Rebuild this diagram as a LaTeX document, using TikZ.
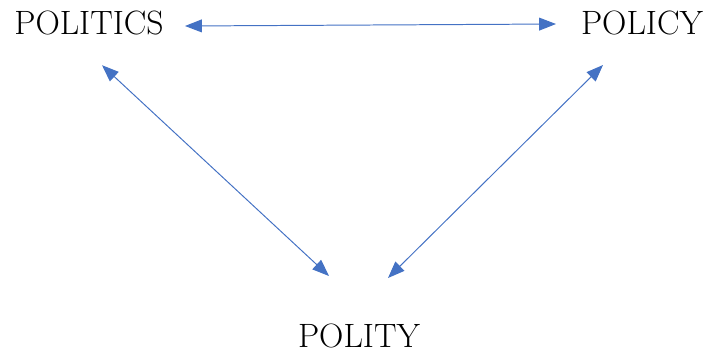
\documentclass[tikz,border=0pt]{standalone}
\usepackage{tikz}
\usetikzlibrary{arrows.meta,positioning}
\definecolor{officeblue}{RGB}{68,114,196}

\begin{document}
\begin{tikzpicture}[
  every node/.style={font=\fontsize{24}{28}\selectfont, inner sep=0pt},
  link/.style={draw=officeblue, line width=0.7pt, {Triangle[length=0.42cm, width=0.32cm]}-{Triangle[length=0.42cm, width=0.32cm]}, officeblue}
]
\useasboundingbox (0,0) rectangle (17.6,-8.85);
\node (politics) at (2.225,-0.575) {POLITICS};
\node (policy) at (16.05,-0.575) {POLICY};
\node (polity) at (8.975,-8.4) {POLITY};
% arrow ends, kept off the words
\coordinate (politics-r) at (4.625,-0.65);
\coordinate (politics-d) at (2.55,-1.63);
\coordinate (policy-l) at (13.9,-0.6);
\coordinate (policy-d) at (15.075,-1.625);
\coordinate (polity-l) at (8.225,-6.9);
\coordinate (polity-r) at (9.7,-6.95);
\draw[link] (politics-r) -- (policy-l);
\draw[link] (politics-d) -- (polity-l);
\draw[link] (policy-d) -- (polity-r);
\end{tikzpicture}
\end{document}
